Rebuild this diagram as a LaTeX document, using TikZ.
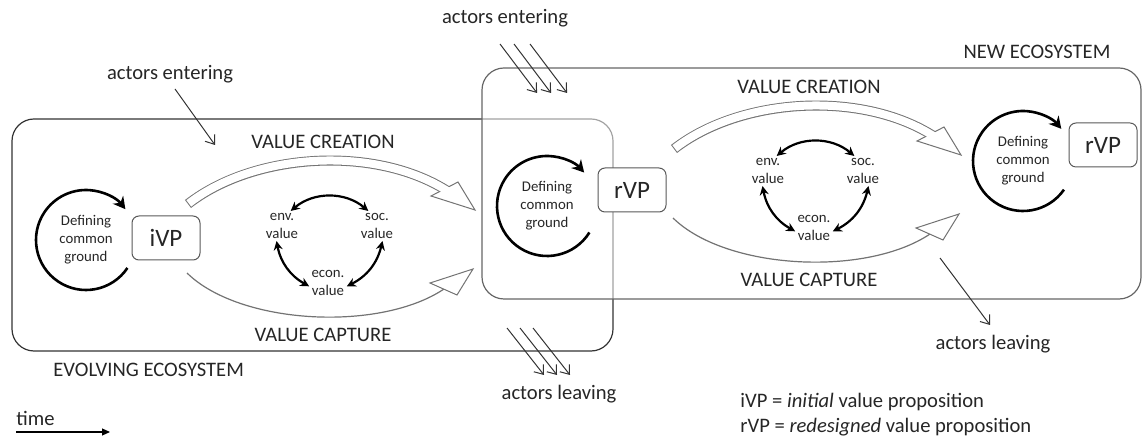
\documentclass[tikz,border=0pt]{standalone}
\usepackage{fontspec}
\setmainfont{Carlito}
\usetikzlibrary{arrows.meta}

\newcommand{\biglbl}{\fontsize{10.3}{12.5}\selectfont}
\newcommand{\tinylbl}{\fontsize{7.4}{9}\selectfont}
\newcommand{\vplbl}{\fontsize{12.5}{15}\selectfont}

\tikzset{
    lbl/.style={font=\biglbl, text=black!85, inner sep=0pt},
    vallbl/.style={font=\tinylbl, text=black!85, align=center, inner sep=1pt},
    dcglbl/.style={font=\tinylbl, text=black!85, align=center, inner sep=0pt},
    vpbox/.style={draw=black!65, fill=white, rounded corners=3.5pt, line width=0.5pt,
        font=\vplbl, text=black!85, minimum width=34pt, minimum height=22pt, inner sep=0pt},
    ecobox/.style={rounded corners=11pt, line width=0.6pt},
    cyclearrow/.style={line width=1.3pt, -{Stealth[length=6pt,width=6.5pt]}},
    duoarrow/.style={line width=1.1pt, {Stealth[length=4.5pt,width=4.5pt]}-{Stealth[length=4.5pt,width=4.5pt]}},
    actorarrow/.style={line width=0.5pt, draw=black!80, -{Straight Barb[length=4pt,width=6pt]}},
    bandout/.style={draw=black!55, line width=5pt},
    bandin/.style={draw=white, line width=4pt, shorten <=0.5pt},
    headshape/.style={draw=black!55, fill=white, line width=0.5pt, line join=miter},
    captureline/.style={draw=black!55, line width=0.6pt},
    timearrow/.style={line width=0.6pt, -{Triangle[length=4pt,width=3.5pt]}}
}

\begin{document}
\begin{tikzpicture}[x=0.5pt, y=-0.5pt]
    \useasboundingbox (0,0) rectangle (1143,437);

    % ecosystems
    \draw[ecobox, draw=black!80] (12,119) rectangle (613,351);
    \draw[ecobox, draw=black!60, fill=white, fill opacity=0.55] (482,68) rectangle (1141,299);
    \node[lbl, anchor=west] (evolving) at (53,370) {EVOLVING ECOSYSTEM};
    \node[lbl] (newtitle) at (1037,52) {NEW ECOSYSTEM};

    % defining common ground + value propositions
    \node[dcglbl] (dcgl) at (86,240) {Defining\\common\\ground};
    \draw[cyclearrow] (dcgl.center) ++(-34:25pt) arc[start angle=-34, end angle=-322, radius=25pt];
    \node[vpbox] (ivp) at (166,238) {iVP};

    \node[dcglbl] (dcgm) at (547,206) {Defining\\common\\ground};
    \draw[cyclearrow] (dcgm.center) ++(-32:25pt) arc[start angle=-32, end angle=-318, radius=25pt];
    \node[vpbox] (rvpm) at (632,190) {rVP};

    \node[dcglbl] (dcgr) at (1023,161) {Defining\\common\\ground};
    \draw[cyclearrow] (dcgr.center) ++(-35:25pt) arc[start angle=-35, end angle=-320, radius=25pt];
    \node[vpbox] (rvpr) at (1103,145) {rVP};

    % value creation / capture, once per ecosystem
    \foreach \s/\dx/\dy in {l/0/0, r/486/-55} {
        \begin{scope}[shift={(\dx,\dy)}]
            \node[lbl] (create\s) at (323,142) {VALUE CREATION};
            \node[lbl] (capture\s) at (323,335) {VALUE CAPTURE};

            \draw[bandout] (188,204) .. controls (255,152) and (377,145) .. (449,192);
            \draw[headshape] (458,182) -- (475,210) -- (431,196) -- cycle;
            \draw[bandin] (188,204) .. controls (255,152) and (377,145) .. (449,192);

            \draw[captureline] (187,273) .. controls (240,325) and (380,332) .. (444,289);
            \draw[headshape] (430,283) -- (473,269) -- (457,295) -- cycle;

            \node[vallbl] (env\s) at (282,226) {env.\\value};
            \node[vallbl] (soc\s) at (377,226) {soc.\\value};
            \node[vallbl] (econ\s) at (328,283) {econ.\\value};
            \draw[duoarrow] (env\s.60) to[bend left=40] (soc\s.120);
            \draw[duoarrow] (env\s.250) to[bend right=25] (econ\s.190);
            \draw[duoarrow] (soc\s.290) to[bend left=25] (econ\s.350);
        \end{scope}
    }

    % actors entering and leaving
    \node[lbl] (enterl) at (170,74) {actors entering};
    \coordinate (enterlfrom) at (175,89);
    \coordinate (enterlto) at (215,145);
    \draw[actorarrow] (enterlfrom) -- (enterlto);

    \node[lbl] (enterm) at (505,18) {actors entering};
    \foreach \i/\dx in {1/0, 2/14, 3/30} {
        \coordinate (entermfrom\i) at (500+\dx,44);
        \coordinate (entermto\i) at (537+\dx,93);
        \draw[actorarrow] (entermfrom\i) -- (entermto\i);
    }

    \node[lbl] (leavem) at (559,394) {actors leaving};
    \foreach \i/\dx in {1/0, 2/13, 3/26} {
        \coordinate (leavemfrom\i) at (507+\dx,328);
        \coordinate (leavemto\i) at (544+\dx,375);
        \draw[actorarrow] (leavemfrom\i) -- (leavemto\i);
    }

    \node[lbl] (leaver) at (993,344) {actors leaving};
    \coordinate (leaverfrom) at (940,258);
    \coordinate (leaverto) at (990,325);
    \draw[actorarrow] (leaverfrom) -- (leaverto);

    % legend and time
    \node[lbl, anchor=west] (legi) at (740,402) {iVP = \textit{initial} value proposition};
    \node[lbl, anchor=west] (legr) at (740,427) {rVP = \textit{redesigned} value proposition};

    \node[lbl, anchor=west] (time) at (16,418) {time};
    \coordinate (timefrom) at (16,432);
    \coordinate (timeto) at (110,432);
    \draw[timearrow] (timefrom) -- (timeto);
\end{tikzpicture}
\end{document}
